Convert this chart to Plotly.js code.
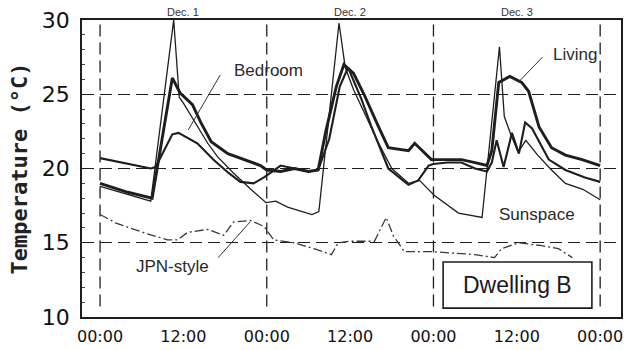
<!DOCTYPE html>
<html>
<head>
<meta charset="utf-8">
<script src="https://cdn.plot.ly/plotly-3.0.1.min.js"></script>
<style>html,body{margin:0;padding:0;background:#fff;}#chart{width:627px;height:350px;}</style>
</head>
<body>
<div id="chart"></div>
<script>
// ---- data (hours since 00:00 Dec. 1, temperature in °C) ----
const livingHours = [0, 2, 4, 7.5, 10.4, 11.5, 13.3, 14.5, 16, 18.4, 20.2, 23.1, 24, 26, 28, 30, 31.4, 32.5, 34, 35.1, 36.5, 38, 40, 41.5, 44.4, 45.3, 47.7, 50, 52, 54, 55.7, 56.4, 57.4, 59, 60.7, 61.7, 63.2, 65, 67, 69.4, 72];
const livingTemp  = [19.0, 18.7, 18.4, 18.0, 26.1, 25.1, 24.3, 23.1, 21.8, 21.0, 20.7, 20.2, 19.9, 19.8, 20.0, 19.8, 19.9, 22.5, 25.5, 27.0, 26.4, 25.0, 22.9, 21.4, 21.2, 21.7, 20.6, 20.6, 20.6, 20.4, 20.2, 21.2, 25.8, 26.2, 25.8, 25.2, 22.8, 21.4, 20.9, 20.6, 20.2];

const bedroomHours = [0, 3, 7.3, 8.0, 10.4, 11.3, 14, 16.3, 18.5, 20.2, 22.1, 23.6, 25, 26, 28, 30, 31.4, 33, 34.5, 35.7, 37.6, 39, 41.5, 44.4, 45.8, 47.3, 48, 50, 52, 54, 55.7, 56.4, 57.1, 58.1, 59.3, 60.3, 61.2, 62.2, 64.6, 67, 69.8, 72];
const bedroomTemp  = [20.7, 20.4, 20.0, 20.1, 22.3, 22.4, 21.7, 20.6, 19.7, 19.1, 19.0, 19.4, 19.9, 20.2, 20.0, 19.8, 19.9, 22.0, 25.5, 26.8, 24.7, 22.9, 20.0, 18.9, 19.2, 20.2, 20.3, 20.4, 20.4, 20.0, 19.8, 20.4, 21.9, 20.1, 22.4, 21.0, 23.1, 22.7, 20.6, 19.9, 19.4, 19.1];

const sunspaceHours = [0, 3, 7.3, 10.6, 11.4, 12, 14, 15.5, 16.9, 19.2, 21.7, 23.9, 25.3, 27, 30.5, 31.5, 34.4, 35.3, 36.5, 38, 40, 42, 44.4, 46, 48.1, 51.6, 55.0, 57.5, 58.2, 59.2, 60.2, 61.3, 63, 65, 67, 69.5, 72];
const sunspaceTemp  = [18.8, 18.4, 17.8, 30.0, 24.8, 24.4, 22.8, 21.7, 20.8, 19.7, 18.6, 17.7, 17.8, 17.4, 16.9, 17.1, 29.8, 26.8, 25.3, 23.8, 21.8, 20.0, 19.0, 19.2, 18.2, 17.0, 16.7, 28.2, 23.5, 22.2, 21.1, 21.9, 20.9, 19.9, 19.0, 18.6, 17.9];

const jpnHours = [0, 2.4, 6.8, 9.7, 11.2, 12.6, 15.5, 17.8, 19.2, 21.7, 23.6, 25, 27.9, 30.8, 33.3, 34.3, 36, 39.5, 41.2, 42.2, 43.8, 47.7, 51, 54, 56.8, 57.8, 60.3, 63.6, 66, 68];
const jpnTemp  = [16.9, 16.3, 15.6, 15.2, 15.2, 15.7, 15.9, 15.5, 16.4, 16.5, 16.1, 15.2, 15.0, 14.6, 14.2, 15.0, 15.1, 15.1, 16.7, 15.5, 14.4, 14.4, 14.3, 14.2, 14.0, 14.6, 15.0, 14.8, 14.6, 14.0];

const tickHours  = [0, 12, 24, 36, 48, 60, 72];
const tickLabels = ["00:00", "12:00", "00:00", "12:00", "00:00", "12:00", "00:00"];
const dayStarts  = [0, 24, 48, 72];
const dayNoons   = [12, 36, 60];
const dayLabels  = ["Dec. 1", "Dec. 2", "Dec. 3"];
const yTicks     = [10, 15, 20, 25, 30];

// ---- chart ----
const ink = '#1e1e1e';
const traces = [
  {x: sunspaceHours, y: sunspaceTemp, mode: 'lines', line: {color: ink, width: 1.3}, name: 'Sunspace'},
  {x: bedroomHours, y: bedroomTemp, mode: 'lines', line: {color: ink, width: 2.1}, name: 'Bedroom'},
  {x: livingHours, y: livingTemp, mode: 'lines', line: {color: ink, width: 2.9}, name: 'Living'},
  {x: jpnHours, y: jpnTemp, mode: 'lines', line: {color: '#3a3a3a', width: 1.3, dash: '9px,3px,2px,3px'}, name: 'JPN-style'}
];

const gridDash = '12px,6px';
const shapes = dayStarts.map(h => ({
  type: 'line', xref: 'x', yref: 'paper', x0: h, x1: h, y0: 0.035, y1: 1,
  line: {color: ink, width: 1.3, dash: gridDash}, layer: 'below'
}));
// pointer lines for the labels
shapes.push({type: 'line', xref: 'x', yref: 'y', x0: 17.3, y0: 26.3, x1: 12.7, y1: 22.6, line: {color: '#333', width: 1}});
shapes.push({type: 'line', xref: 'x', yref: 'y', x0: 63.7, y0: 27.5, x1: 60.2, y1: 25.8, line: {color: '#333', width: 1}});
shapes.push({type: 'line', xref: 'x', yref: 'y', x0: 17.0, y0: 14.0, x1: 21.6, y1: 16.4, line: {color: '#333', width: 1}});
// "Dwelling B" box
shapes.push({type: 'rect', xref: 'paper', yref: 'paper', x0: 0.670, x1: 0.946, y0: 0.030, y1: 0.185,
  fillcolor: '#fff', line: {color: ink, width: 1.6}, layer: 'above'});

const labelFont = {family: 'Liberation Sans, Arial, sans-serif', size: 17, color: '#2a2a2a'};
const annotations = dayNoons.map((h, i) => ({
  x: h, y: 1, xref: 'x', yref: 'paper', yanchor: 'bottom', yshift: 0, showarrow: false,
  text: dayLabels[i], font: {family: 'Liberation Sans, Arial, sans-serif', size: 11, color: '#333'}
}));
annotations.push({x: 24.2, y: 26.6, xref: 'x', yref: 'y', text: 'Bedroom', showarrow: false, font: labelFont});
annotations.push({x: 68.4, y: 27.7, xref: 'x', yref: 'y', text: 'Living', showarrow: false, font: labelFont});
annotations.push({x: 62.9, y: 16.9, xref: 'x', yref: 'y', text: 'Sunspace', showarrow: false, font: labelFont});
annotations.push({x: 10.5, y: 13.4, xref: 'x', yref: 'y', text: 'JPN-style', showarrow: false, font: labelFont});
annotations.push({x: 0.808, y: 0.108, xref: 'paper', yref: 'paper', xanchor: 'center', yanchor: 'middle',
  text: 'Dwelling B', showarrow: false,
  font: {family: 'Liberation Sans, Arial, sans-serif', size: 23, color: '#1a1a1a'}});

const layout = {
  width: 627, height: 350,
  margin: {l: 82, r: 6, t: 20, b: 33},
  paper_bgcolor: '#fff', plot_bgcolor: '#fff',
  showlegend: false,
  xaxis: {
    range: [-2.6, 75.0], tickvals: tickHours, ticktext: tickLabels,
    showgrid: false, zeroline: false, showline: true, mirror: true,
    linecolor: ink, linewidth: 1.8, ticks: '', ticklabelstandoff: 4,
    tickfont: {family: 'DejaVu Sans, sans-serif', size: 16, color: '#111'}
  },
  yaxis: {
    range: [10, 30], tickvals: yTicks,
    showgrid: true, gridcolor: ink, gridwidth: 1.3, griddash: gridDash,
    zeroline: false, showline: true, mirror: true, linecolor: ink, linewidth: 1.8,
    ticks: 'inside', ticklen: 4, tickcolor: ink,
    minor: {dtick: 1, ticks: 'inside', ticklen: 3, tickcolor: '#444', showgrid: false},
    tickfont: {family: 'DejaVu Sans, sans-serif', size: 22, color: '#111'},
    ticklabelstandoff: 6,
    title: {text: 'Temperature (°C)', standoff: 8,
      font: {family: 'DejaVu Sans Mono, monospace', size: 22, color: '#222', weight: 'bold'}}
  },
  shapes: shapes,
  annotations: annotations
};

Plotly.newPlot('chart', traces, layout, {displayModeBar: false, staticPlot: true});
</script>
</body>
</html>
